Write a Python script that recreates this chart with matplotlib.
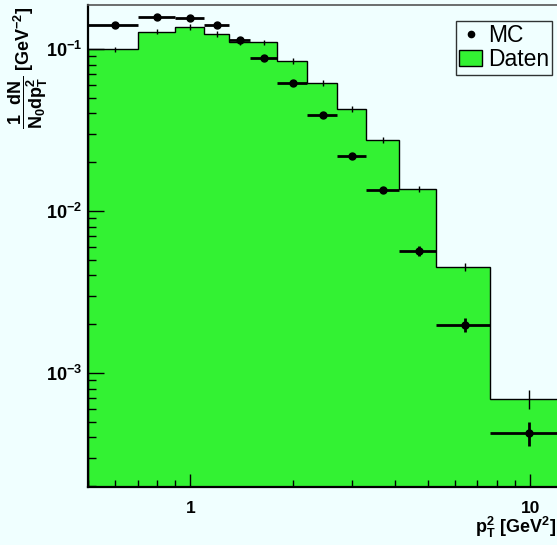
import numpy as np
import matplotlib.pyplot as plt
from matplotlib.lines import Line2D
from matplotlib.patches import Patch

plt.rcParams['font.family'] = ['Liberation Sans', 'DejaVu Sans']
plt.rcParams['mathtext.fontset'] = 'custom'
plt.rcParams['mathtext.rm'] = 'Liberation Sans'
plt.rcParams['mathtext.it'] = 'Liberation Sans:italic'
plt.rcParams['mathtext.bf'] = 'Liberation Sans:bold'
plt.rcParams['mathtext.default'] = 'bf'

# bin edges in pT^2 [GeV^2]
edges = [0.5, 0.7, 0.9, 1.1, 1.3, 1.5, 1.8, 2.2, 2.7, 3.3, 4.1, 5.3, 7.6, 12.2]

# data histogram ("Daten")
daten = [0.0996, 0.128, 0.137, 0.124, 0.111, 0.110, 0.0843, 0.062, 0.0424,
         0.0274, 0.0137, 0.00451, 0.000692]
daten_err = [0.004, 0.005, 0.005, 0.005, 0.0045, 0.0045, 0.0035, 0.0026,
             0.0018, 0.0012, 0.0006, 0.00025, 0.00009]

# MC points
mc = [0.1406, 0.158, 0.156, 0.141, 0.1137, 0.0876, 0.062, 0.0392, 0.0219,
      0.0135, 0.00566, 0.00198, 0.000425]
mc_err = [0.003, 0.003, 0.003, 0.003, 0.0025, 0.002, 0.0015, 0.001, 0.0006,
          0.0004, 0.0004, 0.0002, 0.00007]

bg = '#f0ffff'
green = '#33f233'

edges = np.array(edges)
centers = 0.5 * (edges[:-1] + edges[1:])
halfw = 0.5 * (edges[1:] - edges[:-1])

fig = plt.figure(figsize=(5.57, 5.45), dpi=100, facecolor=bg)
ax = fig.add_axes([88 / 557, 58 / 545, 1 - 88 / 557, 482 / 545])
ax.set_facecolor(bg)
ax.set_xscale('log')
ax.set_yscale('log')

ax.stairs(daten, edges, baseline=1e-6, fill=True, facecolor=green,
          edgecolor='none', zorder=1)
ax.stairs(daten, edges, baseline=1e-6, fill=False, edgecolor='black',
          linewidth=1.0, zorder=1.2)
ax.errorbar(centers, daten, yerr=daten_err, fmt='none', ecolor='black',
            elinewidth=1.0, zorder=3)
ax.errorbar(centers, mc, xerr=halfw, yerr=mc_err, fmt='o', color='black',
            ms=5, elinewidth=2, capsize=0, zorder=4)

ax.set_xlim(0.5, 12.0)
ax.set_ylim(1.978e-4, 0.187)

ax.set_xticks([1, 10])
ax.set_xticklabels(['1', '10'])
ax.set_xticks([0.5, 0.6, 0.7, 0.8, 0.9, 2, 3, 4, 5, 6, 7, 8, 9], minor=True)
ax.set_yticks([1e-3, 1e-2, 1e-1])
ax.set_yticklabels([r'$10^{-3}$', r'$10^{-2}$', r'$10^{-1}$'])
ax.set_yticks([m * d for d in [1e-4, 1e-3, 1e-2, 1e-1] for m in range(2, 10)
               if 1.978e-4 < m * d < 0.187], minor=True)
ax.yaxis.set_minor_formatter(plt.NullFormatter())
ax.xaxis.set_minor_formatter(plt.NullFormatter())

ax.tick_params(axis='both', which='both', direction='in', top=False, right=False,
               width=1.0, color='black')
ax.tick_params(axis='y', which='major', length=11.5, pad=4, labelsize=13)
ax.tick_params(axis='y', which='minor', length=5.8)
ax.tick_params(axis='x', which='major', length=9.4, pad=10, labelsize=12.5)
ax.tick_params(axis='x', which='minor', length=4.7)
for lab in ax.get_xticklabels() + ax.get_yticklabels():
    lab.set_fontweight('bold')

ax.spines['left'].set_linewidth(1.6)
ax.spines['bottom'].set_linewidth(1.6)
ax.spines['top'].set_color('#555555')
ax.spines['top'].set_linewidth(1.2)
ax.spines['right'].set_visible(False)

fig.text(28 / 557, 1 - 7 / 545,
         r'$\dfrac{1\ \ dN}{N_{0}dp_{T}^{2}}$ [GeV$^{-2}$]',
         rotation=90, ha='center', va='top', fontsize=13, fontweight='bold')
fig.text(0.998, 1 - 527 / 545, r'$p_{T}^{2}$ [GeV$^{2}$]', ha='right',
         va='center', fontsize=13, fontweight='bold')

handles = [Line2D([], [], marker='o', color='black', ls='none', ms=4.5),
           Patch(facecolor=green, edgecolor='black', linewidth=1)]
leg = fig.legend(handles, ['MC', 'Daten'], loc='upper left',
                 bbox_to_anchor=(455.7 / 557, 1 - 20.7 / 545),
                 fontsize=16.5, frameon=True, fancybox=False,
                 handlelength=1.0, handletextpad=0.25, borderpad=0.15,
                 labelspacing=0.05, borderaxespad=0)
leg.get_frame().set_edgecolor('black')
leg.get_frame().set_facecolor(bg)
leg.get_frame().set_linewidth(1.0)

fig.savefig('out.png', dpi=100, facecolor=bg)
